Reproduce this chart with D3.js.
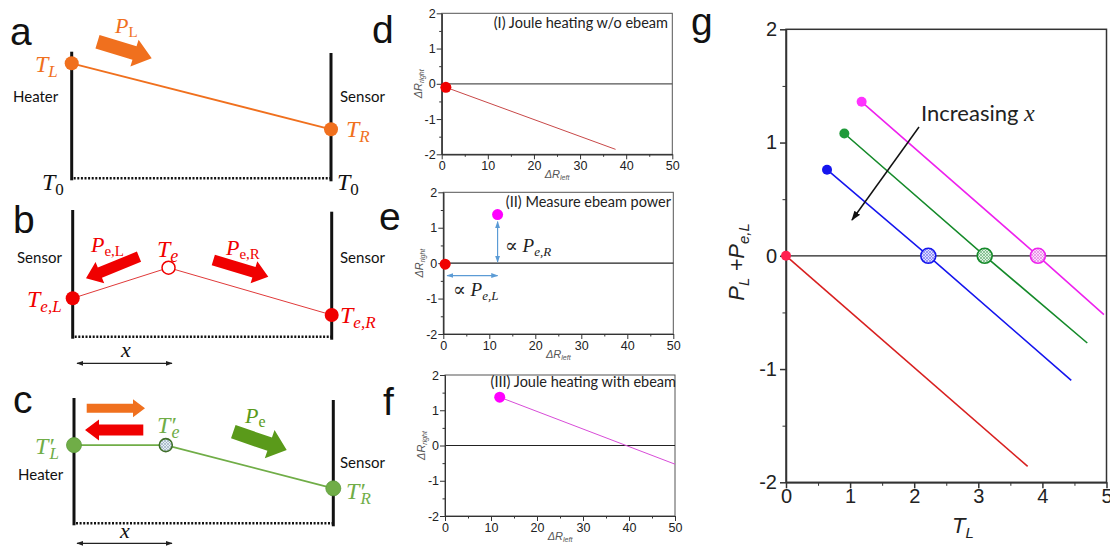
<!DOCTYPE html>
<html>
<head>
<meta charset="utf-8">
<script src="https://cdn.jsdelivr.net/npm/d3@7"></script>
<style>
  body { margin: 0; background: #fff; }
</style>
</head>
<body>
<svg id="fig"></svg>
<script>
// ---- data ----
// schematic temperature profiles: position along the bar (0..1) and temperature above T0
const profileA = [{ pos: 0, temp: 1.0 }, { pos: 1, temp: 0.426 }];
const profileB = [{ pos: 0, temp: 0.334 }, { pos: 0.37, temp: 0.6 }, { pos: 1, temp: 0.189 }];
const profileC = [{ pos: 0, temp: 0.68 }, { pos: 0.354, temp: 0.68 }, { pos: 1, temp: 0.304 }];

// panels d-f: (ΔR_left, ΔR_right)
const jouleNoBeam = [{ dl: 0.9, dr: -0.1 }, { dl: 37.7, dr: -1.86 }];
const beamOnly = [{ dl: 0.4, dr: -0.03 }, { dl: 11.8, dr: 1.37 }];
const jouleWithBeam = [{ dl: 11.9, dr: 1.37 }, { dl: 50, dr: -0.53 }];
const smallTicksX = [0, 10, 20, 30, 40, 50];
const smallMinorX = [5, 15, 25, 35, 45];
const smallTicksY = [-2, -1, 0, 1, 2];
const smallMinorY = [-1.5, -0.5, 0.5, 1.5];

// panel g: (T_L, P_L + P_e,L) start, zero crossing, end
const gRed = [{ t: 0, p: 0 }, { t: 3.77, p: -1.86 }];
const gBlue = [{ t: 0.64, p: 0.76 }, { t: 2.22, p: 0 }, { t: 4.45, p: -1.1 }];
const gGreen = [{ t: 0.91, p: 1.08 }, { t: 3.10, p: 0 }, { t: 4.70, p: -0.77 }];
const gMagenta = [{ t: 1.18, p: 1.36 }, { t: 3.93, p: 0 }, { t: 4.96, p: -0.52 }];
const gTicksX = [0, 1, 2, 3, 4, 5];
const gMinorX = [0.5, 1.5, 2.5, 3.5, 4.5];
const gTicksY = [-2, -1, 0, 1, 2];
const gMinorY = [-1.5, -0.5, 0.5, 1.5];

// ---- setup ----
const serif = "'Liberation Serif', 'DejaVu Serif', serif";
const sans = "'Liberation Sans', Arial, sans-serif";
const body = "Lato, 'Open Sans', sans-serif";
const orange = "#f0701e", red = "#f00000", green = "#70ad47", darkGreen = "#5a9a1a";
const plain = d => String(d);   // "-1" with a hyphen, like the original

const svg = d3.select("#fig").attr("width", 1110).attr("height", 551);
const defs = svg.append("defs");

function hatch(id, color, bg) {
    const p = defs.append("pattern").attr("id", id)
        .attr("patternUnits", "userSpaceOnUse").attr("width", 3).attr("height", 3);
    p.append("rect").attr("width", 3).attr("height", 3).attr("fill", bg);
    p.append("path").attr("d", "M0,0L3,3M3,0L0,3").attr("stroke", color).attr("stroke-width", 0.6);
}
hatch("h-c", "#8fa3b8", "#e4edf3");
hatch("h-blue", "#6a6af0", "#dcdcff");
hatch("h-green", "#5aa86a", "#ddf0e0");
hatch("h-mag", "#e070e0", "#fbdcfb");

function marker(id, color, size) {
    defs.append("marker").attr("id", id)
        .attr("viewBox", "0 0 10 10").attr("refX", 9).attr("refY", 5)
        .attr("markerUnits", "userSpaceOnUse")
        .attr("markerWidth", size).attr("markerHeight", size)
        .attr("orient", "auto-start-reverse")
        .append("path").attr("d", "M0,1.5L10,5L0,8.5z").attr("fill", color);
}
marker("m-black", "#111", 10);
marker("m-dark", "#222", 7);
marker("m-blue", "#5b9bd5", 7);

// fat block arrow
function fatArrow(x1, y1, x2, y2, bw, hw, hl) {
    const L = Math.hypot(x2 - x1, y2 - y1), ux = (x2 - x1) / L, uy = (y2 - y1) / L;
    const nx = -uy, ny = ux, bx = x2 - ux * hl, by = y2 - uy * hl;
    const pts = [
        [x1 + nx * bw / 2, y1 + ny * bw / 2], [bx + nx * bw / 2, by + ny * bw / 2],
        [bx + nx * hw / 2, by + ny * hw / 2], [x2, y2],
        [bx - nx * hw / 2, by - ny * hw / 2], [bx - nx * bw / 2, by - ny * bw / 2],
        [x1 - nx * bw / 2, y1 - ny * bw / 2]];
    return d3.line()(pts) + "Z";
}

// text with a subscript; italicSub for math-style subscripts
function subText(x, y, main, sub, opt) {
    const t = svg.append("text").attr("x", x).attr("y", y)
        .attr("fill", opt.color).attr("font-family", opt.family || serif)
        .attr("font-size", opt.size);
    t.append("tspan").attr("font-style", opt.italic === false ? "normal" : "italic").text(main);
    t.append("tspan").attr("font-size", opt.subSize || opt.size * 0.68)
        .attr("font-style", opt.italicSub ? "italic" : "normal")
        .attr("dx", opt.subDx || 0)
        .attr("baseline-shift", opt.shift || "-28%").text(sub);
    return t;
}

function panelLetter(x, y, s) {
    svg.append("text").attr("x", x).attr("y", y).attr("font-family", sans)
        .attr("font-size", 39).attr("fill", "#111").text(s);
}

// ---- schematic panels a, b, c ----
function schematic(cfg, profile, color, width) {
    const x = d3.scaleLinear().domain([0, 1]).range([cfg.left, cfg.right]);
    const y = d3.scaleLinear().domain([0, 1]).range([cfg.base, cfg.base - 115]);
    svg.append("line").attr("x1", x(0)).attr("x2", x(0)).attr("y1", cfg.topL).attr("y2", cfg.base + 2)
        .attr("stroke", "#111").attr("stroke-width", 3);
    svg.append("line").attr("x1", x(1)).attr("x2", x(1)).attr("y1", cfg.topR).attr("y2", cfg.base + 3)
        .attr("stroke", "#111").attr("stroke-width", 3);
    svg.append("line").attr("x1", x(0) + 2).attr("x2", x(1)).attr("y1", cfg.base).attr("y2", cfg.base)
        .attr("stroke", "#111").attr("stroke-width", 2.5).attr("stroke-dasharray", "2,1.6");
    svg.append("path").datum(profile)
        .attr("d", d3.line().x(d => x(d.pos)).y(d => y(d.temp)))
        .attr("fill", "none").attr("stroke", color).attr("stroke-width", width);
    return { x, y };
}

// a
panelLetter(10, 45, "a");
const sa = schematic({ left: 71.7, right: 331, base: 178.3, topL: 51.7, topR: 53 }, profileA, orange, 1.8);
svg.selectAll(null).data(profileA).join("circle")
    .attr("cx", d => sa.x(d.pos)).attr("cy", d => sa.y(d.temp)).attr("r", 7).attr("fill", orange);
subText(35, 72, "T", "L", { color: orange, size: 24, italicSub: true, subSize: 17 });
subText(346, 137, "T", "R", { color: orange, size: 24, italicSub: true, subSize: 17 });
subText(42, 190, "T", "0", { color: "#111", size: 24, subSize: 17, italic: true });
subText(337, 190, "T", "0", { color: "#111", size: 24, subSize: 17, italic: true });
svg.append("text").attr("x", 13).attr("y", 102).attr("font-family", body).attr("font-size", 15).attr("fill", "#111").text("Heater");
svg.append("text").attr("x", 340).attr("y", 102).attr("font-family", body).attr("font-size", 15).attr("fill", "#111").text("Sensor");
svg.append("path").attr("d", fatArrow(97.5, 41.7, 151.7, 58.3, 14, 28, 18)).attr("fill", orange);
subText(115, 33, "P", "L", { color: orange, size: 22, subSize: 15 });

// b
panelLetter(13, 233, "b");
const sb = schematic({ left: 72.7, right: 331.7, base: 336.7, topL: 210, topR: 211.7 }, profileB, "#e03a3a", 1);
svg.selectAll(null).data(profileB).join("circle")
    .attr("cx", d => sb.x(d.pos)).attr("cy", d => sb.y(d.temp))
    .attr("r", (d, i) => i === 1 ? 6.5 : 7)
    .attr("fill", (d, i) => i === 1 ? "#fff" : red)
    .attr("stroke", red).attr("stroke-width", (d, i) => i === 1 ? 1.5 : 0);
svg.append("text").attr("x", 17).attr("y", 263).attr("font-family", body).attr("font-size", 15).attr("fill", "#111").text("Sensor");
svg.append("text").attr("x", 340).attr("y", 263).attr("font-family", body).attr("font-size", 15).attr("fill", "#111").text("Sensor");
subText(27, 307, "T", "e,L", { color: red, size: 24, italicSub: true, subSize: 17 });
subText(340, 323, "T", "e,R", { color: red, size: 24, italicSub: true, subSize: 17 });
subText(157, 257, "T", "e", { color: red, size: 24, italicSub: true, subSize: 18 });
subText(91, 252, "P", "e,L", { color: red, size: 22, subSize: 15 });
subText(226, 255, "P", "e,R", { color: red, size: 22, subSize: 15 });
svg.append("path").attr("d", fatArrow(139, 256.7, 86, 278.3, 11, 23, 15)).attr("fill", red);
svg.append("path").attr("d", fatArrow(213.3, 260, 268.3, 276.7, 11, 23, 15)).attr("fill", red);
svg.append("line").attr("x1", 77).attr("x2", 172).attr("y1", 363.3).attr("y2", 363.3)
    .attr("stroke", "#222").attr("stroke-width", 1.2)
    .attr("marker-start", "url(#m-dark)").attr("marker-end", "url(#m-dark)");
svg.append("text").attr("x", 121).attr("y", 357).attr("font-family", serif).attr("font-style", "italic")
    .attr("font-size", 22).attr("fill", "#111").text("x");

// c
panelLetter(13, 413, "c");
const sc = schematic({ left: 74, right: 333.3, base: 523.3, topL: 398, topR: 400 }, profileC, green, 1.8);
svg.selectAll(null).data(profileC).join("circle")
    .attr("cx", d => sc.x(d.pos)).attr("cy", d => sc.y(d.temp))
    .attr("r", (d, i) => i === 1 ? 6.5 : 7.5)
    .attr("fill", (d, i) => i === 1 ? "url(#h-c)" : green)
    .attr("stroke", (d, i) => i === 1 ? "#3f6e2a" : "#5c9a3a").attr("stroke-width", (d, i) => i === 1 ? 1.6 : 0.8);
svg.append("text").attr("x", 18).attr("y", 480).attr("font-family", body).attr("font-size", 15).attr("fill", "#111").text("Heater");
svg.append("text").attr("x", 340).attr("y", 468).attr("font-family", body).attr("font-size", 15).attr("fill", "#111").text("Sensor");
subText(35, 454, "T′", "L", { color: green, size: 24, italicSub: true, subSize: 17, subDx: -4 });
subText(157, 433, "T′", "e", { color: green, size: 24, italicSub: true, subSize: 18, subDx: -4 });
subText(346, 499, "T′", "R", { color: green, size: 24, italicSub: true, subSize: 17, subDx: -4 });
subText(245, 423, "P", "e", { color: darkGreen, size: 22, subSize: 16 });
svg.append("path").attr("d", fatArrow(86.7, 408.3, 145, 408.3, 9, 18, 12)).attr("fill", orange);
svg.append("path").attr("d", fatArrow(143.3, 430, 85, 430, 11, 21, 14)).attr("fill", red);
svg.append("path").attr("d", fatArrow(233.3, 431.7, 286.7, 450, 14, 30, 18)).attr("fill", darkGreen);
svg.append("line").attr("x1", 77).attr("x2", 172).attr("y1", 543.3).attr("y2", 543.3)
    .attr("stroke", "#222").attr("stroke-width", 1.2)
    .attr("marker-start", "url(#m-dark)").attr("marker-end", "url(#m-dark)");
svg.append("text").attr("x", 120).attr("y", 538).attr("font-family", serif).attr("font-style", "italic")
    .attr("font-size", 22).attr("fill", "#111").text("x");

// ---- small plots d, e, f ----
function styleAxis(g, size) {
    g.attr("font-family", sans).attr("font-size", size);
    g.selectAll("text").attr("fill", "#222");
    g.selectAll("line").attr("stroke", "#333");
    g.selectAll("path").attr("stroke", "#333");
}

function smallPlot(box, note) {
    const x = d3.scaleLinear().domain([0, 50]).range([box.x0, box.x1]);
    const y = d3.scaleLinear().domain([-2, 2]).range([box.y1, box.y0]);
    svg.append("rect").attr("x", box.x0).attr("y", box.y0)
        .attr("width", box.x1 - box.x0).attr("height", box.y1 - box.y0)
        .attr("fill", "none").attr("stroke", "#555").attr("stroke-width", 1);
    svg.append("line").attr("x1", x(0)).attr("x2", x(50)).attr("y1", y(0)).attr("y2", y(0))
        .attr("stroke", box.zeroColor).attr("stroke-width", 1.2);
    const bx = svg.append("g").attr("transform", `translate(0,${box.y1})`)
        .call(d3.axisBottom(x).tickValues(smallTicksX).tickFormat(plain).tickSize(5).tickSizeOuter(0).tickPadding(2));
    styleAxis(bx, 12.5);
    styleAxis(svg.append("g").attr("transform", `translate(0,${box.y1})`)
        .call(d3.axisBottom(x).tickValues(smallMinorX).tickSize(2.5).tickSizeOuter(0).tickFormat("")), 12);
    const ly = svg.append("g").attr("transform", `translate(${box.x0},0)`)
        .call(d3.axisLeft(y).tickValues(smallTicksY).tickFormat(plain).tickSize(5).tickSizeOuter(0).tickPadding(1));
    styleAxis(ly, 12.5);
    styleAxis(svg.append("g").attr("transform", `translate(${box.x0},0)`)
        .call(d3.axisLeft(y).tickValues(smallMinorY).tickSize(2.5).tickSizeOuter(0).tickFormat("")), 12);

    // axis titles
    const xt = svg.append("text").attr("x", x(25)).attr("y", box.y1 + 24).attr("text-anchor", "middle")
        .attr("font-family", sans).attr("font-style", "italic").attr("font-size", 11).attr("fill", "#555");
    xt.append("tspan").text("ΔR");
    xt.append("tspan").attr("font-size", 7).attr("baseline-shift", "-35%").text("left");
    const yt = svg.append("text")
        .attr("transform", `translate(${box.x0 - 20},${y(0)}) rotate(-90)`).attr("text-anchor", "middle")
        .attr("font-family", sans).attr("font-style", "italic").attr("font-size", 11).attr("fill", "#555");
    yt.append("tspan").text("ΔR");
    yt.append("tspan").attr("font-size", 7).attr("baseline-shift", "-35%").text("right");

    svg.append("text").attr("x", box.noteX).attr("y", box.noteY).attr("text-anchor", "end")
        .attr("font-family", body).attr("font-size", 14.5).attr("fill", "#222").text(note);
    return { x, y };
}

panelLetter(372, 43, "d");
const pd = smallPlot({ x0: 441.7, x1: 672.3, y0: 13.3, y1: 154.3, zeroColor: "#555", noteX: 668, noteY: 28 },
    "(I) Joule heating w/o ebeam");
svg.append("path").datum(jouleNoBeam)
    .attr("d", d3.line().x(d => pd.x(d.dl)).y(d => pd.y(d.dr)))
    .attr("fill", "none").attr("stroke", "#c84848").attr("stroke-width", 1);
svg.append("circle").datum(jouleNoBeam[0])
    .attr("cx", d => pd.x(d.dl)).attr("cy", d => pd.y(d.dr)).attr("r", 5.5).attr("fill", red);

panelLetter(379, 230, "e");
const pe = smallPlot({ x0: 443.3, x1: 673.3, y0: 192.3, y1: 334, zeroColor: "#222", noteX: 671, noteY: 207 },
    "(II) Measure ebeam power");
// blue proportionality arrows
svg.append("line")
    .attr("x1", pe.x(beamOnly[1].dl)).attr("x2", pe.x(beamOnly[1].dl))
    .attr("y1", pe.y(beamOnly[1].dr) + 7).attr("y2", pe.y(0) - 1)
    .attr("stroke", "#5b9bd5").attr("stroke-width", 1.2)
    .attr("marker-start", "url(#m-blue)").attr("marker-end", "url(#m-blue)");
svg.append("line")
    .attr("x1", pe.x(beamOnly[0].dl) + 2).attr("x2", pe.x(beamOnly[1].dl))
    .attr("y1", pe.y(-0.35)).attr("y2", pe.y(-0.35))
    .attr("stroke", "#5b9bd5").attr("stroke-width", 1.2)
    .attr("marker-start", "url(#m-blue)").attr("marker-end", "url(#m-blue)");
svg.selectAll(null).data(beamOnly).join("circle")
    .attr("cx", d => pe.x(d.dl)).attr("cy", d => pe.y(d.dr)).attr("r", 5.5)
    .attr("fill", (d, i) => i === 0 ? red : "#ff00ff");
const prR = svg.append("text").attr("x", 505).attr("y", 252).attr("font-family", serif)
    .attr("font-size", 19).attr("fill", "#222");
prR.append("tspan").text("∝ ");
prR.append("tspan").attr("font-style", "italic").text("P");
prR.append("tspan").attr("font-style", "italic").attr("font-size", 13).attr("baseline-shift", "-30%").text("e,R");
const prL = svg.append("text").attr("x", 453).attr("y", 296).attr("font-family", serif)
    .attr("font-size", 19).attr("fill", "#222");
prL.append("tspan").text("∝ ");
prL.append("tspan").attr("font-style", "italic").text("P");
prL.append("tspan").attr("font-style", "italic").attr("font-size", 13).attr("baseline-shift", "-30%").text("e,L");

panelLetter(383, 415, "f");
const pf = smallPlot({ x0: 445, x1: 675, y0: 375, y1: 516, zeroColor: "#222", noteX: 676, noteY: 387 },
    "(III) Joule heating with ebeam");
svg.append("path").datum(jouleWithBeam)
    .attr("d", d3.line().x(d => pf.x(d.dl)).y(d => pf.y(d.dr)))
    .attr("fill", "none").attr("stroke", "#d84cd8").attr("stroke-width", 1);
svg.append("circle").datum(jouleWithBeam[0])
    .attr("cx", d => pf.x(d.dl)).attr("cy", d => pf.y(d.dr)).attr("r", 5.5).attr("fill", "#ff00ff");

// ---- panel g ----
panelLetter(691, 35, "g");
const gx = d3.scaleLinear().domain([0, 5]).range([786, 1106.5]);
const gy = d3.scaleLinear().domain([-2, 2]).range([482.3, 29.3]);

svg.append("rect").attr("x", gx(0)).attr("y", gy(2)).attr("width", gx(5) - gx(0)).attr("height", gy(-2) - gy(2))
    .attr("fill", "none").attr("stroke", "#333").attr("stroke-width", 1.5);
svg.append("line").attr("x1", gx(0)).attr("x2", gx(5)).attr("y1", gy(0)).attr("y2", gy(0))
    .attr("stroke", "#222").attr("stroke-width", 1.3);

const gxa = svg.append("g").attr("transform", `translate(0,${gy(-2)})`)
    .call(d3.axisBottom(gx).tickValues(gTicksX).tickFormat(plain).tickSize(6).tickSizeOuter(0).tickPadding(1));
styleAxis(gxa, 20);
gxa.selectAll("path, line").attr("stroke-width", 1.5);
styleAxis(svg.append("g").attr("transform", `translate(0,${gy(-2)})`)
    .call(d3.axisBottom(gx).tickValues(gMinorX).tickSize(3.5).tickSizeOuter(0).tickFormat("")), 20);
const gya = svg.append("g").attr("transform", `translate(${gx(0)},0)`)
    .call(d3.axisLeft(gy).tickValues(gTicksY).tickFormat(plain).tickSize(6).tickSizeOuter(0).tickPadding(3));
styleAxis(gya, 20);
gya.selectAll("path, line").attr("stroke-width", 1.5);
styleAxis(svg.append("g").attr("transform", `translate(${gx(0)},0)`)
    .call(d3.axisLeft(gy).tickValues(gMinorY).tickSize(3.5).tickSizeOuter(0).tickFormat("")), 20);

const gLine = d3.line().x(d => gx(d.t)).y(d => gy(d.p));
const gSeries = [
    { pts: gRed, color: "#d82020", dot: "#ff1f4f", fill: null },
    { pts: gBlue, color: "#1515ee", dot: "#1515ee", fill: "url(#h-blue)" },
    { pts: gGreen, color: "#158a2a", dot: "#1f9a3a", fill: "url(#h-green)" },
    { pts: gMagenta, color: "#ee22ee", dot: "#ff33ff", fill: "url(#h-mag)" }
];
gSeries.forEach(s => {
    svg.append("path").datum(s.pts).attr("d", gLine)
        .attr("fill", "none").attr("stroke", s.color).attr("stroke-width", 1.6);
    svg.append("circle").datum(s.pts[0])
        .attr("cx", d => gx(d.t)).attr("cy", d => gy(d.p)).attr("r", 5).attr("fill", s.dot);
    if (s.fill) {
        svg.append("circle").datum(s.pts[1])
            .attr("cx", d => gx(d.t)).attr("cy", d => gy(d.p)).attr("r", 7.5)
            .attr("fill", s.fill).attr("stroke", s.color).attr("stroke-width", 1.6);
    }
});

// annotation
const inc = svg.append("text").attr("x", 921).attr("y", 121).attr("font-family", body)
    .attr("font-size", 22).attr("fill", "#222");
inc.append("tspan").text("Increasing ");
inc.append("tspan").attr("font-family", serif).attr("font-style", "italic").attr("font-size", 24).text("x");
svg.append("line").attr("x1", 919).attr("y1", 127).attr("x2", 852).attr("y2", 220)
    .attr("stroke", "#111").attr("stroke-width", 1.5).attr("marker-end", "url(#m-black)");

// axis titles
const gxt = svg.append("text").attr("x", 952).attr("y", 533).attr("font-family", sans)
    .attr("font-style", "italic").attr("font-size", 22).attr("fill", "#222");
gxt.append("tspan").text("T");
gxt.append("tspan").attr("font-size", 15).attr("baseline-shift", "-35%").text("L");
const gyt = svg.append("text").attr("transform", "translate(744,262) rotate(-90)").attr("text-anchor", "middle")
    .attr("font-family", sans).attr("font-style", "italic").attr("font-size", 22).attr("fill", "#222");
gyt.append("tspan").text("P");
gyt.append("tspan").attr("font-size", 15).attr("baseline-shift", "-35%").text("L");
gyt.append("tspan").text(" +P");
gyt.append("tspan").attr("font-size", 15).attr("baseline-shift", "-35%").text("e,L");
</script>
</body>
</html>
